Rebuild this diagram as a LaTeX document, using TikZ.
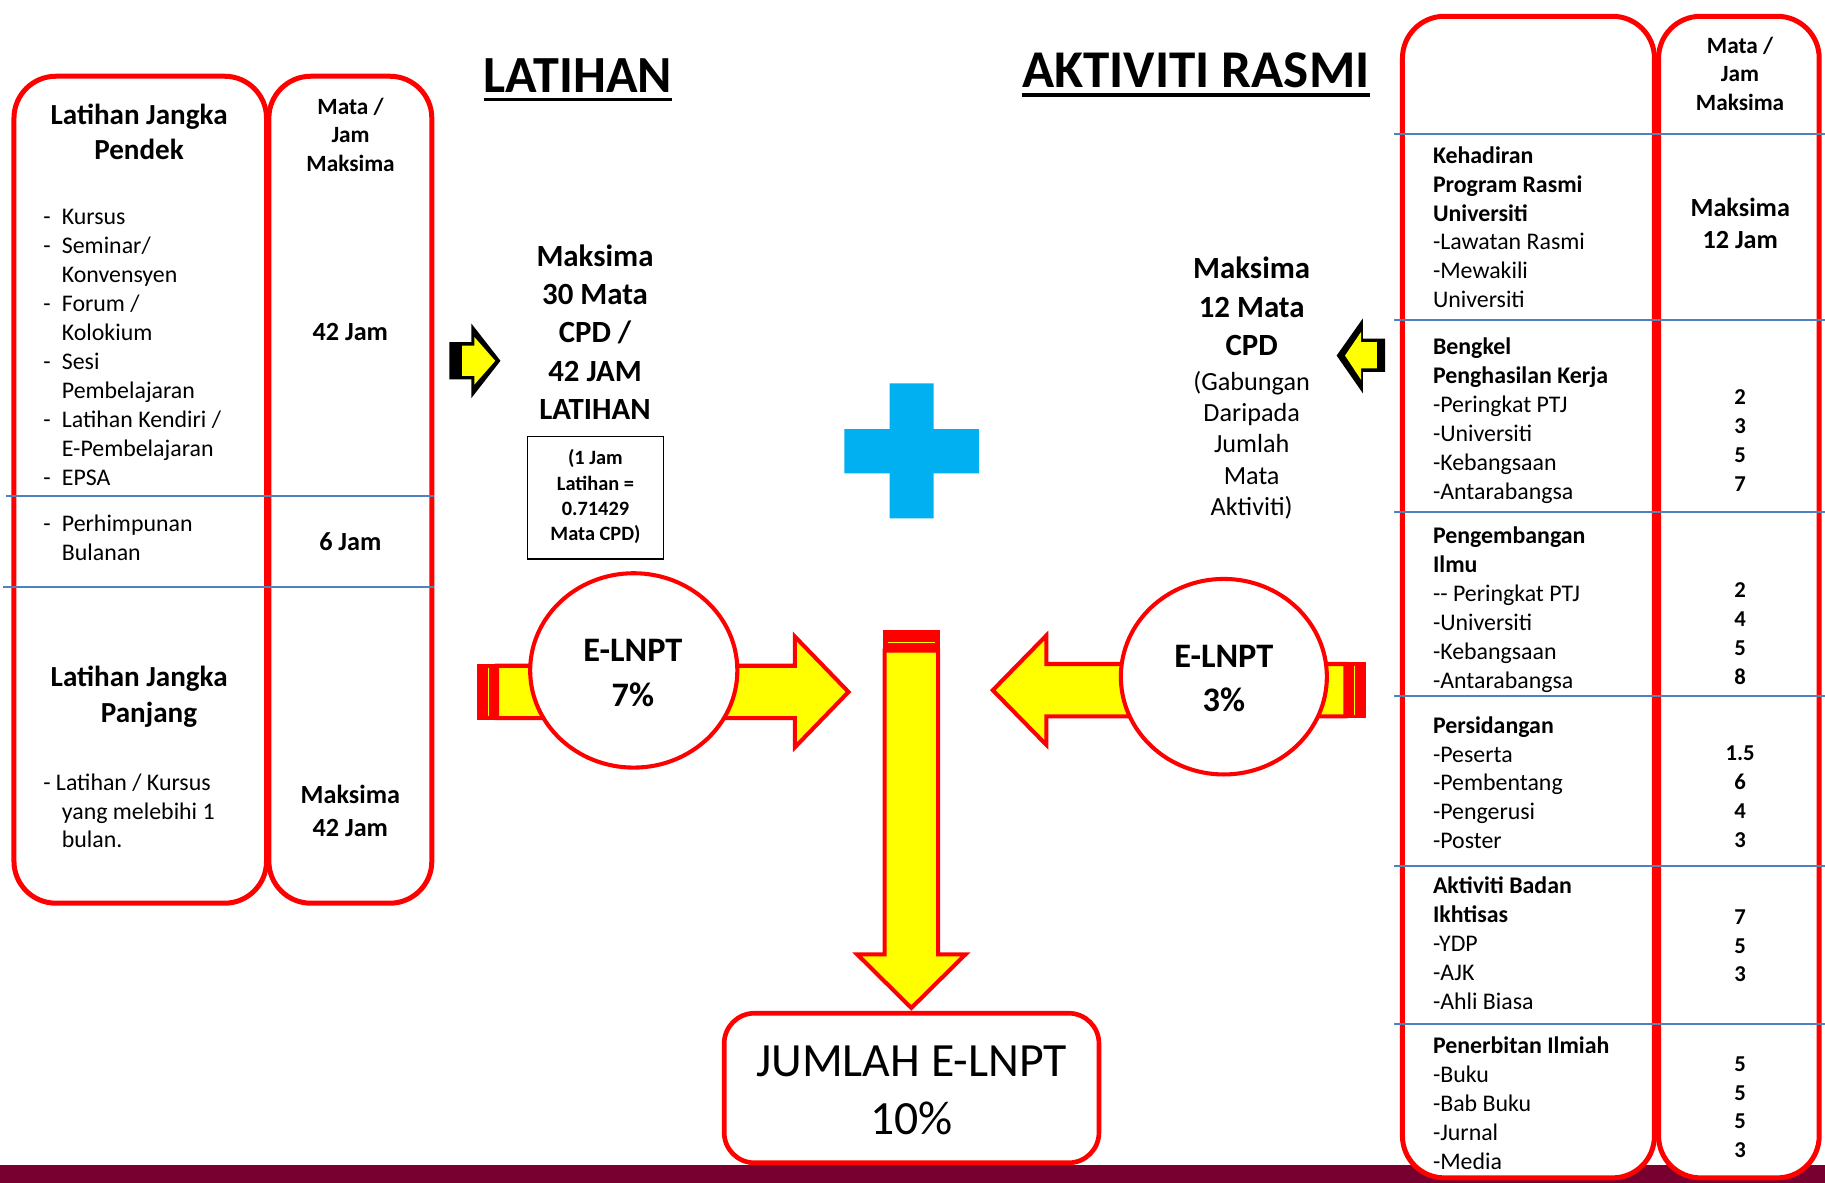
\documentclass[tikz,border=0pt]{standalone}
\usepackage{fontspec}
\setmainfont{Carlito}
\usetikzlibrary{shapes.geometric,calc}
\definecolor{pred}{HTML}{FF0000}
\definecolor{pyellow}{HTML}{FFFF00}
\definecolor{pblue}{HTML}{4F81BD}
\definecolor{pcyan}{HTML}{00B0F0}
\definecolor{pmaroon}{HTML}{780030}
\newcommand{\tb}[2]{\begin{tabular}[t]{@{}#1@{}}#2\end{tabular}}
\newcommand{\fs}[2]{\fontsize{#1}{#2}\selectfont}
\begin{document}
\begin{tikzpicture}[x=1pt,y=-1pt,
  tx/.style={inner sep=0pt, anchor=base},
  txl/.style={inner sep=0pt, anchor=base west},
  tbox/.style={draw=pred, line width=4.3pt, rounded corners=36pt, fill=white, inner sep=0pt},
  sep/.style={draw=pblue, line width=1.6pt},
  bigarrow/.style={fill=pyellow, draw=pred, line width=3.5pt, line join=miter},
  ell/.style={ellipse, draw=pred, fill=white, line width=3.5pt, inner sep=0pt},
  smallarrow/.style={fill=pyellow, draw=none}
]
\fill[white] (0,0) rectangle (1568,1016);
\useasboundingbox (0,0) rectangle (1568,1016);
% bottom band
\fill[pmaroon] (0,1001) rectangle (1568,1016);

% ---------- left table ----------
\node[tbox, minimum width=217pt, minimum height=710.5pt] (LA) at (120.5,420.75) {};
\node[tbox, minimum width=140pt, minimum height=710.5pt] (LB) at (301,420.75) {};
\draw[sep] (5,426.5) -- (373,426.5);
\draw[sep] (3,504.7) -- (373,504.7);

\node[tx, font=\fs{25}{30.5}\bfseries] (lh1) at (119.5,106.8) {\tb{c}{Latihan Jangka\\Pendek}};
\node[tx, font=\fs{20}{24.6}\bfseries] (lm) at (301.2,98.2) {\tb{c}{Mata /\\Jam\\Maksima}};
\node[txl, font=\fs{20.5}{24.9}] (ll1) at (37,192.7) {\tb{l@{\hspace{9.7pt}}l}{-&Kursus\\-&Seminar/\\&Konvensyen\\-&Forum /\\&Kolokium\\-&Sesi\\&Pembelajaran\\-&Latihan Kendiri /\\&E-Pembelajaran\\-&EPSA}};
\node[tx, font=\fs{22.5}{28}\bfseries] (lv1) at (301,292.5) {42 Jam};
\node[txl, font=\fs{20.5}{24.7}] (ll2) at (37,456.6) {\tb{l@{\hspace{9.7pt}}l}{-&Perhimpunan\\&Bulanan}};
\node[tx, font=\fs{22.5}{28}\bfseries] (lv2) at (301,473.4) {6 Jam};
\node[tx, font=\fs{25}{31.5}\bfseries] (lh2) at (119.6,589.4) {\tb{c}{Latihan Jangka\\\hspace*{16.8pt}Panjang}};
\node[txl, font=\fs{20.5}{24.5}] (ll3) at (37,679.5) {\tb{l}{- Latihan / Kursus\\\hspace*{16pt}yang melebihi 1\\\hspace*{16pt}bulan.}};
\node[tx, font=\fs{22.5}{28.3}\bfseries] (lv3) at (301,690.5) {\tb{c}{Maksima\\42 Jam}};

% ---------- titles ----------
\node[tx, font=\fs{44.8}{50}\bfseries] (tl) at (496.5,79.5) {LATIHAN};
\draw[line width=3pt] ([yshift=-6pt]tl.base west) -- ([yshift=-6pt]tl.base east);
\node[tx, font=\fs{45.6}{50}\bfseries] (ta) at (1027.5,75) {AKTIVITI RASMI};
\draw[line width=3pt] ([yshift=-6.6pt]ta.base west) -- ([yshift=-6.6pt]ta.base east);

% ---------- right table ----------
\node[tbox, minimum width=216.5pt, minimum height=998pt] (RA) at (1313.2,513) {};
\node[tbox, minimum width=138pt, minimum height=998pt] (RB) at (1494,513) {};
\foreach \yy in {115.1,275,439.7,597.7,744.2,879.9}
  \draw[sep] (1198,\yy) -- (1568,\yy);

\node[tx, font=\fs{20}{24.65}\bfseries] (rh) at (1495,45.8) {\tb{c}{Mata /\\Jam\\Maksima}};
\node[txl, font=\fs{20.5}{24.8}] (s1) at (1231,140.3) {\tb{l}{\textbf{Kehadiran}\\\textbf{Program Rasmi}\\\textbf{Universiti}\\-Lawatan Rasmi\\-Mewakili\\Universiti}};
\node[tx, font=\fs{22.5}{27.8}\bfseries] (v1) at (1495.2,185.6) {\tb{c}{Maksima\\12 Jam}};
\node[txl, font=\fs{20.5}{24.8}] (s2) at (1231,305) {\tb{l}{\textbf{Bengkel}\\\textbf{Penghasilan Kerja}\\-Peringkat PTJ\\-Universiti\\-Kebangsaan\\-Antarabangsa}};
\node[tx, font=\fs{19.5}{24.9}\bfseries] (v2) at (1495,347.5) {\tb{c}{2\\3\\5\\7}};
\node[txl, font=\fs{20.5}{24.9}] (s3) at (1231,467.3) {\tb{l}{\textbf{Pengembangan}\\\textbf{Ilmu}\\-{}- Peringkat PTJ\\-Universiti\\-Kebangsaan\\-Antarabangsa}};
\node[tx, font=\fs{19.5}{24.9}\bfseries] (v3) at (1495,513) {\tb{c}{2\\4\\5\\8}};
\node[txl, font=\fs{20.5}{24.9}] (s4) at (1231,629.8) {\tb{l}{\textbf{Persidangan}\\-Peserta\\-Pembentang\\-Pengerusi\\-Poster}};
\node[tx, font=\fs{19.5}{24.9}\bfseries] (v4) at (1495,653.3) {\tb{c}{1.5\\6\\4\\3}};
\node[txl, font=\fs{20.5}{24.8}] (s5) at (1231,768) {\tb{l}{\textbf{Aktiviti Badan}\\\textbf{Ikhtisas}\\-YDP\\-AJK\\-Ahli Biasa}};
\node[tx, font=\fs{19.5}{24.5}\bfseries] (v5) at (1495,794.3) {\tb{c}{7\\5\\3}};
\node[txl, font=\fs{20.5}{24.8}] (s6) at (1231,905.3) {\tb{l}{\textbf{Penerbitan Ilmiah}\\-Buku\\-Bab Buku\\-Jurnal\\-Media}};
\node[tx, font=\fs{19.5}{24.9}\bfseries] (v6) at (1495,920.2) {\tb{c}{5\\5\\5\\3}};

% ---------- small yellow arrows (black silhouette + yellow inset) ----------
\fill[black] (386,294) -- (405,294) -- (405,278) -- (430,310) -- (405,342) -- (405,326) -- (386,326) -- cycle;
\fill[pyellow] (397,297) -- (407.5,297) -- (407.5,289.5) -- (425.5,310) -- (407.5,330.5) -- (407.5,323) -- (397,323) -- cycle;
\fill[black] (1190,291) -- (1171,291) -- (1171,273.5) -- (1148.4,305.5) -- (1171,338) -- (1171,319.5) -- (1190,319.5) -- cycle;
\fill[pyellow] (1183,294) -- (1169.5,294) -- (1169.5,285) -- (1155.6,305.5) -- (1169.5,326.5) -- (1169.5,316.5) -- (1183,316.5) -- cycle;

% ---------- middle texts ----------
\node[tx, font=\fs{26.5}{33}\bfseries] (m1) at (511.2,228.6) {\tb{c}{Maksima\\30 Mata\\CPD /\\42 JAM\\LATIHAN}};
\node[draw=black, line width=1.3pt, minimum width=117pt, minimum height=105pt, inner sep=0pt, font=\fs{17.5}{21.7}\bfseries] (m2) at (511.6,427.6) {\tb{c}{(1 Jam\\Latihan =\\0.71429\\Mata CPD)}};
\node[tx, font=\fs{26.5}{33.4}\bfseries] (r1) at (1075.4,239) {\tb{c}{Maksima\\12 Mata\\CPD}};
\node[tx, font=\fs{22.5}{26.85}] (r2) at (1075.4,335.5) {\tb{c}{(Gabungan\\Daripada\\Jumlah\\Mata\\Aktiviti)}};

% ---------- plus ----------
\fill[pcyan] (764.3,329.4) -- (802.1,329.4) -- (802.1,368.6) -- (841,368.6) -- (841,406.7) -- (802.1,406.7) -- (802.1,445.3) -- (764.3,445.3) -- (764.3,406.7) -- (725.4,406.7) -- (725.4,368.6) -- (764.3,368.6) -- cycle;

% ---------- big arrows ----------
\draw[bigarrow] (427,572) -- (683,572) -- (683,547) -- (729,594.5) -- (683,642) -- (683,617) -- (427,617) -- cycle;
\fill[pred] (409.5,570.25) rectangle (428,618.75);
\fill[pyellow] (419,573.5) rectangle (420.2,615.5);

\draw[bigarrow] (760,559) -- (760,820) -- (736.5,820) -- (783,866) -- (829.5,820) -- (806,820) -- (806,559) -- cycle;
\fill[pred] (758.25,541.3) rectangle (807.75,560.5);
\fill[pyellow] (763,551.6) rectangle (803,552.8);

\draw[bigarrow] (1156,570.5) -- (899,570.5) -- (899,546) -- (853,593) -- (899,640) -- (899,615.5) -- (1156,615.5) -- cycle;
\fill[pred] (1154.5,568.75) rectangle (1174,617.25);
\fill[pyellow] (1163,572) rectangle (1164.2,614.3);

% ---------- ellipses ----------
\node[ell, minimum width=178pt, minimum height=167pt] (E1) at (544.5,576) {};
\node[ell, minimum width=177pt, minimum height=168pt] (E2) at (1051.5,581.4) {};
\node[tx, font=\fs{29.5}{38.4}\bfseries] (e1t) at (543.8,568.2) {\tb{c}{E-LNPT\\7\%}};
\node[tx, font=\fs{29.5}{38}\bfseries] (e2t) at (1051.5,573.4) {\tb{c}{E-LNPT\\3\%}};

% ---------- total box ----------
\node[draw=pred, line width=4pt, rounded corners=26pt, fill=white, minimum width=322pt, minimum height=128.5pt, inner sep=0pt] (jb) at (783.2,934.8) {};
\node[tx, font=\fs{41}{49.9}] (jt) at (783.2,924.5) {\tb{c}{JUMLAH E-LNPT\\10\%}};
\end{tikzpicture}
\end{document}
